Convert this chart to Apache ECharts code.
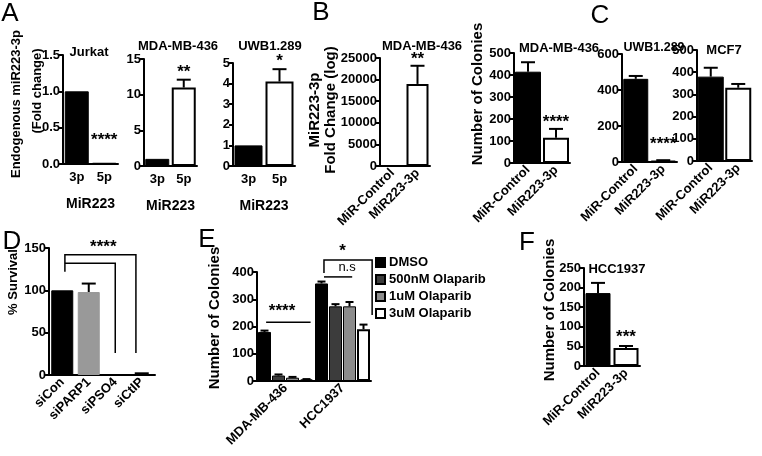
<!DOCTYPE html>
<html><head><meta charset="utf-8">
<script src="https://cdn.jsdelivr.net/npm/echarts@6/dist/echarts.min.js"></script>
<style>html,body{margin:0;padding:0;background:#fff}#c{width:762px;height:456px}</style>
</head><body><div id="c"></div>
<script>
// ---------------- data ----------------
const aJurkatCats = ['3p', '5p'];
const aJurkatVals = [1.0, 0.01];
const aJurkatErr  = [null, null];
const aMdaCats = ['3p', '5p'];
const aMdaVals = [1.0, 11.0];
const aMdaErr  = [null, 12.1];
const aUwbCats = ['3p', '5p'];
const aUwbVals = [1.0, 4.1];
const aUwbErr  = [null, 4.7];

const bCats = ['MiR-Control', 'MiR223-3p'];
const bVals = [1, 19000];
const bErr  = [null, 23200];

const cCats = ['MiR-Control', 'MiR223-3p'];
const cMdaVals = [415, 115];
const cMdaErr  = [458, 155];
const cUwbVals = [462, 5];
const cUwbErr  = [478, 10];
const cMcfVals = [380, 330];
const cMcfErr  = [420, 347];

const dCats = ['siCon', 'siPARP1', 'siPSO4', 'siCtIP'];
const dVals = [100, 98, 0, 1];
const dErr  = [null, 108, null, 2];

const eCats = ['MDA-MB-436', 'HCC1937'];
const eNames = ['DMSO', '500nM Olaparib', '1uM Olaparib', '3uM Olaparib'];
const eDmso = [180, 358];  const eDmsoErr = [185, 365];
const e500  = [20, 274];   const e500Err  = [24, 282];
const e1uM  = [12, 274];   const e1uMErr  = [15, 290];
const e3uM  = [5, 190];    const e3uMErr  = [7, 207];

const fCats = ['MiR-Control', 'MiR223-3p'];
const fVals = [186, 46];
const fErr  = [212, 51];

// ---------------- style ----------------
const FF = '"Liberation Sans", Arial, sans-serif';
const BLACK = '#000', WHITE = '#fff', DGRAY = '#3c3c3c', MGRAY = '#8c8c8c', LGRAY = '#999999';

const panels = [
  {box:[63,55,55,109], cats:aJurkatCats, max:1.5, step:0.5, fmt:v=>v.toFixed(1), bw:24, rot:0, xName:'MiR223',
   bars:[{vals:aJurkatVals, errs:aJurkatErr, colors:[BLACK, WHITE]}],
   stars:[[1, 0.33, '****']]},
  {box:[144,59,53,107], cats:aMdaCats, max:15, step:5, bw:24, rot:0, xName:'MiR223',
   bars:[{vals:aMdaVals, errs:aMdaErr, colors:[BLACK, WHITE]}],
   stars:[[1, 13.1, '**']]},
  {box:[233,63,62,103], cats:aUwbCats, max:5, step:1, bw:28, rot:0, xName:'MiR223',
   bars:[{vals:aUwbVals, errs:aUwbErr, colors:[BLACK, WHITE]}],
   stars:[[1, 5.1, '*']]},
  {box:[380,58,50,108], cats:bCats, max:25000, step:5000, bw:22, rot:45,
   bars:[{vals:bVals, errs:bErr, colors:[BLACK, WHITE]}],
   stars:[[1, 24800, '**']]},
  {box:[514,53,56,110], cats:cCats, max:500, step:100, bw:26, rot:45,
   bars:[{vals:cMdaVals, errs:cMdaErr, colors:[BLACK, WHITE]}],
   stars:[[1, 186, '****']]},
  {box:[622,54,55,108], cats:cCats, max:600, step:200, bw:25, rot:45,
   bars:[{vals:cUwbVals, errs:cUwbErr, colors:[BLACK, WHITE]}],
   stars:[[1, 98, '****']]},
  {box:[697,50,55,111], cats:cCats, max:500, step:100, bw:26, rot:45,
   bars:[{vals:cMcfVals, errs:cMcfErr, colors:[BLACK, WHITE]}],
   stars:[]},
  {box:[49,248,106,127], cats:dCats, max:150, step:50, bw:22, rot:45,
   bars:[{vals:dVals, errs:dErr, colors:[BLACK, LGRAY, BLACK, BLACK]}],
   stars:[],
   brackets:[[[0.1,122],[0.1,142],[2.78,142],[2.78,26]], [[0.1,132],[2.0,132],[2.0,26]]],
   btexts:[[1.55, 151, '****']]},
  {box:[257,272,114,109], cats:eCats, max:400, step:100, bw:13, gap:1, rot:45, legend:true,
   bars:[{name:eNames[0], vals:eDmso, errs:eDmsoErr, color:BLACK},
         {name:eNames[1], vals:e500, errs:e500Err, color:DGRAY},
         {name:eNames[2], vals:e1uM, errs:e1uMErr, color:MGRAY},
         {name:eNames[3], vals:e3uM, errs:e3uMErr, color:WHITE}],
   stars:[],
   brackets:[[[-0.34,216],[0.44,216]], [[0.675,382],[1.17,382]], [[0.675,396],[0.675,444],[1.52,444],[1.52,242]]],
   btexts:[[-0.06,256,'****'], [1.08,418,'n.s',13,'normal'], [1.0,476,'*']]},
  {box:[584,268,56,98], cats:fCats, max:250, step:50, bw:25, rot:45,
   bars:[{vals:fVals, errs:fErr, colors:[BLACK, WHITE]}],
   stars:[[1, 74, '***']]}
];

const grids = [], xAxes = [], yAxes = [], series = [];
panels.forEach((p, gi) => {
  grids.push({left:p.box[0], top:p.box[1], width:p.box[2], height:p.box[3], outerBoundsMode:'none'});
  xAxes.push({type:'category', gridIndex:gi, data:p.cats, boundaryGap:true,
    axisLine:{lineStyle:{color:BLACK, width:2}},
    axisTick:{alignWithLabel:true, length:4, lineStyle:{width:2, color:BLACK}},
    axisLabel:{color:BLACK, fontWeight:'bold', fontSize:13, fontFamily:FF, rotate:p.rot, margin:p.rot?5:7, interval:0},
    name:p.xName||'', nameLocation:'middle', nameGap:33,
    nameTextStyle:{color:BLACK, fontWeight:'bold', fontSize:14, fontFamily:FF}});
  yAxes.push({type:'value', gridIndex:gi, min:0, max:p.max, interval:p.step,
    axisLine:{show:true, lineStyle:{color:BLACK, width:2}},
    axisTick:{show:true, length:4, lineStyle:{width:2, color:BLACK}},
    splitLine:{show:false},
    axisLabel:{color:BLACK, fontWeight:'bold', fontSize:13, fontFamily:FF, margin:3, formatter:p.fmt||(v=>String(v))}});
  const nb = p.bars.length;
  p.bars.forEach((b, k) => {
    series.push({type:'bar', name:b.name, xAxisIndex:gi, yAxisIndex:gi, barWidth:p.bw,
      barGap: p.gap!=null ? (p.gap/p.bw*100)+'%' : '0%',
      animation:false,
      itemStyle: b.color ? {color:b.color, borderColor:BLACK, borderWidth: b.color===WHITE?2:1} : undefined,
      data: b.vals.map((v, i) => b.colors ? ({value:v, itemStyle:{color:b.colors[i], borderColor: b.colors[i]===LGRAY?LGRAY:BLACK, borderWidth: b.colors[i]===WHITE?2:1}}) : v)});
    const off = nb>1 ? (k-(nb-1)/2)*(p.bw+(p.gap||0)) : 0;
    const cw = nb>1 ? 4 : 7;
    const ed = [];
    b.errs.forEach((e, i) => { if (e != null) ed.push([i, b.vals[i], e]); });
    series.push({type:'custom', xAxisIndex:gi, yAxisIndex:gi, z:5, silent:true, data:ed,
      renderItem:(params, api) => {
        const x = api.value(0);
        const p0 = api.coord([x, api.value(1)]), p1 = api.coord([x, api.value(2)]);
        const cx = p0[0] + off;
        return {type:'group', children:[
          {type:'line', shape:{x1:cx, y1:p0[1], x2:cx, y2:p1[1]}, style:{stroke:BLACK, lineWidth:2}},
          {type:'line', shape:{x1:cx-cw, y1:p1[1], x2:cx+cw, y2:p1[1]}, style:{stroke:BLACK, lineWidth:2}}]};
      }});
  });
  const texts = (p.stars||[]).concat(p.btexts||[]);
  const lines = p.brackets||[];
  if (texts.length || lines.length) {
    series.push({type:'custom', xAxisIndex:gi, yAxisIndex:gi, z:10, silent:true, clip:false, data:[[0,0]],
      renderItem:(params, api) => {
        // fractional category positions: first category centre + idx * band width
        const x0 = api.coord([0, 0])[0];
        const band = api.size([1, 0])[0];
        const pt = q => [x0 + q[0]*band, api.coord([0, q[1]])[1]];
        const ch = [];
        lines.forEach(l => ch.push({type:'polyline', shape:{points:l.map(pt)},
          style:{stroke:BLACK, lineWidth:1.5, fill:'none'}}));
        texts.forEach(t => { const q = pt(t);
          ch.push({type:'text', x:q[0], y:q[1], style:{text:t[2], fill:BLACK, align:'center', verticalAlign:'middle',
            font:(t[4]||'bold')+' '+(t[3]||17)+'px '+FF}}); });
        return {type:'group', children:ch};
      }});
  }
});

function txt(s, x, y, size, weight, rot) {
  return {type:'text', x:x, y:y, rotation:rot?Math.PI/2:0,
    style:{text:s, fill:BLACK, font:(weight||'bold')+' '+size+'px '+FF, align:'center', verticalAlign:'middle'}};
}
const graphic = [
  txt('A', 10, 14, 26, 'normal'), txt('B', 321, 13, 26, 'normal'), txt('C', 600, 16, 26, 'normal'),
  txt('D', 12, 242, 26, 'normal'), txt('E', 207, 240, 26, 'normal'), txt('F', 527, 243, 26, 'normal'),
  txt('Jurkat', 89, 52, 13), txt('MDA-MB-436', 178, 46, 13), txt('UWB1.289', 270, 46, 13),
  txt('MDA-MB-436', 422, 46, 13), txt('MDA-MB-436', 559, 48, 13), txt('UWB1.289', 654, 48, 12.5),
  txt('MCF7', 724, 50, 13), txt('HCC1937', 617, 269, 13),
  txt('Endogenous miR223-3p', 16, 104, 13, 'bold', true), txt('(Fold change)', 37, 91, 13, 'bold', true),
  txt('MiR223-3p', 315, 110, 15, 'bold', true), txt('Fold Change (log)', 331, 110, 15, 'bold', true),
  txt('Number of Colonies', 478, 94, 15, 'bold', true),
  txt('% Survival', 13, 282, 13, 'bold', true),
  txt('Number of Colonies', 215, 318, 15, 'bold', true),
  txt('Number of Colonies', 550, 310, 15, 'bold', true)
];

const chart = echarts.init(document.getElementById('c'), null, {renderer:'canvas'});
chart.setOption({
  animation:false, backgroundColor:'#fff',
  grid:grids, xAxis:xAxes, yAxis:yAxes, series:series, graphic:graphic,
  legend:{data:eNames, orient:'vertical', left:375, top:256, padding:0, itemWidth:9, itemHeight:9, itemGap:4, icon:'rect',
    selectedMode:false, textStyle:{color:BLACK, fontWeight:'bold', fontSize:13, fontFamily:FF, padding:[0,0,0,-1]}}
});
</script></body></html>
